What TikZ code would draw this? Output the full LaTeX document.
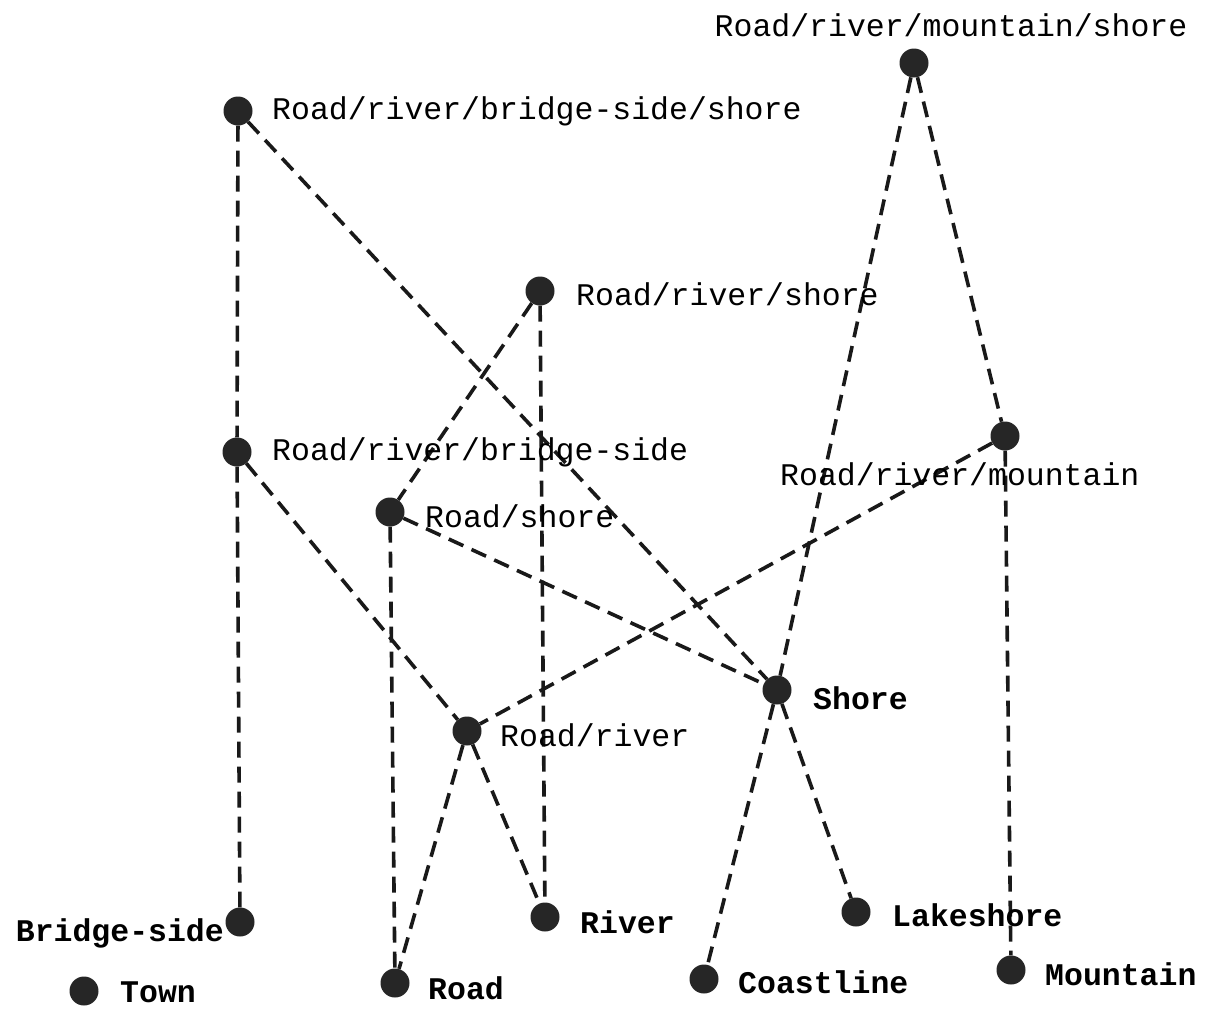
\documentclass[tikz,border=0pt]{standalone}
\usepackage{fontspec}
\setmonofont{Liberation Mono}
\begin{document}
\begin{tikzpicture}[x=1pt,y=-1pt,
  dot/.style={circle,fill=black!85,inner sep=0pt,minimum size=29pt},
  lbl/.style={font=\fontsize{31.5}{33}\selectfont\ttfamily,inner sep=0pt},
  blbl/.style={font=\fontsize{31.5}{33}\selectfont\ttfamily\bfseries,inner sep=0pt},
  edge/.style={draw=black!90,line width=3.6pt,dash pattern=on 16pt off 9pt}]
\useasboundingbox[fill=white] (0,0) rectangle (1214,1010);
% dots
\node[dot] (rrbss) at (238,111) {};
\node[dot] (rrms) at (914,63) {};
\node[dot] (rrs) at (540,291) {};
\node[dot] (rrb) at (237,452) {};
\node[dot] (rrm) at (1005,436) {};
\node[dot] (rs) at (390,512) {};
\node[dot] (shore) at (777,690) {};
\node[dot] (rr) at (467,731) {};
\node[dot] (bside) at (240,922) {};
\node[dot] (river) at (545,917) {};
\node[dot] (lake) at (856,912) {};
\node[dot] (town) at (84,991) {};
\node[dot] (road) at (395,983) {};
\node[dot] (coast) at (704,979) {};
\node[dot] (mount) at (1011,970) {};
% edges
\draw[edge] (rrbss) -- (rrb);
\draw[edge] (rrbss) -- (shore);
\draw[edge] (rrb) -- (bside);
\draw[edge] (rrb) -- (rr);
\draw[edge] (rrs) -- (rs);
\draw[edge] (rrs) -- (river);
\draw[edge] (rrms) -- (shore);
\draw[edge] (shore) -- (coast);
\draw[edge] (rrms) -- (rrm);
\draw[edge] (rrm) -- (mount);
\draw[edge] (rrm) -- (rr);
\draw[edge] (rs) -- (shore);
\draw[edge] (rs) -- (road);
\draw[edge] (rr) -- (road);
\draw[edge] (rr) -- (river);
\draw[edge] (shore) -- (lake);
% labels
\node[lbl,anchor=west] (lrrbss) at (272,111) {Road/river/bridge-side/shore};
\node[lbl] (lrrms) at (951,25) {Road/river/mountain/shore};
\node[lbl,anchor=west] (lrrs) at (576,294) {Road/river/shore};
\node[lbl,anchor=west] (lrrb) at (272,452) {Road/river/bridge-side};
\node[lbl,anchor=west] (lrrm) at (780,474) {Road/river/mountain};
\node[lbl,anchor=west] (lrs) at (425,516) {Road/shore};
\node[blbl,anchor=west] (lshore) at (813,698) {Shore};
\node[lbl,anchor=west] (lrr) at (500,735) {Road/river};
\node[blbl,anchor=east] (lbside) at (224,933) {Bridge-side};
\node[blbl,anchor=west] (lriver) at (580,922) {River};
\node[blbl,anchor=west] (llake) at (892,915) {Lakeshore};
\node[blbl,anchor=west] (ltown) at (120,992) {Town};
\node[blbl,anchor=west] (lroad) at (428,988) {Road};
\node[blbl,anchor=west] (lcoast) at (738,982) {Coastline};
\node[blbl,anchor=west] (lmount) at (1045,974) {Mountain};
\end{tikzpicture}
\end{document}
